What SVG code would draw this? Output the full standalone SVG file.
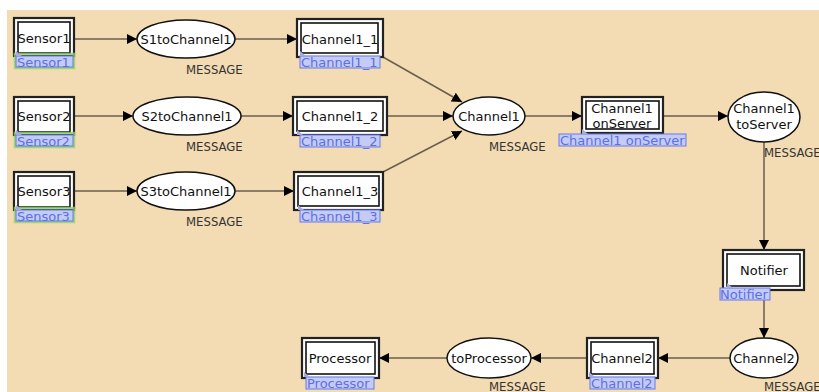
<svg xmlns="http://www.w3.org/2000/svg" width="819" height="392" viewBox="0 0 819 392">
<defs>
<style>
.bg{fill:#f3dcb3}
.outer{fill:#fff;stroke:#222;stroke-width:2.2}
.inner{fill:#fff;stroke:#111;stroke-width:1.6}
.el{fill:#fff;stroke:#111;stroke-width:1.5}
.t{font-family:"DejaVu Sans",Verdana,sans-serif;font-size:13px;fill:#111;text-anchor:middle;dominant-baseline:central}
.msg{font-family:"DejaVu Sans",Verdana,sans-serif;font-size:11.7px;fill:#333;dominant-baseline:central}
.lb{fill:#c4ccf6;stroke:#6678ea;stroke-width:1}
.lt{font-family:"DejaVu Sans",Verdana,sans-serif;font-size:13px;fill:#5d6fe6;dominant-baseline:central}
.tri{fill:#a8a8e0}
.glow{fill:none;stroke:#8ad466;stroke-width:2.5;opacity:0.8}
.e{fill:none;stroke:#6b5e4c;stroke-width:1.5;marker-end:url(#ah)}
</style>
<marker id="ah" markerWidth="11" markerHeight="11" refX="10" refY="5" orient="auto" markerUnits="userSpaceOnUse">
<path d="M0,0 L10,5 L0,10 Z" fill="#000"/>
</marker>
</defs>
<rect x="0" y="0" width="819" height="392" fill="#fff"/>
<rect class="bg" x="7" y="10" width="812" height="382"/>

<g id="connectors">
<line class="e" x1="74" y1="39" x2="137" y2="39"/>
<line class="e" x1="235" y1="39" x2="297" y2="39"/>
<line class="e" x1="74" y1="116" x2="133" y2="116"/>
<line class="e" x1="241" y1="116" x2="293" y2="116"/>
<line class="e" x1="74" y1="191" x2="137" y2="191"/>
<line class="e" x1="235" y1="191" x2="294" y2="191"/>
<line class="e" x1="383" y1="57" x2="462" y2="102"/>
<line class="e" x1="387" y1="116" x2="453" y2="116"/>
<line class="e" x1="383" y1="172" x2="462" y2="131"/>
<line class="e" x1="525" y1="116" x2="582" y2="116"/>
<line class="e" x1="663" y1="116" x2="728" y2="116"/>
<line class="e" x1="764" y1="142" x2="764" y2="250"/>
<line class="e" x1="764" y1="290" x2="764" y2="338"/>
<line class="e" x1="730" y1="358" x2="658" y2="358"/>
<line class="e" x1="587" y1="358" x2="531" y2="358"/>
<line class="e" x1="447" y1="358" x2="379" y2="358"/>
</g>

<g id="Sensor1">
<rect class="outer" x="14" y="18" width="60" height="38"/>
<rect class="inner" x="18" y="22" width="52" height="31"/>
<text class="t" x="44" y="38">Sensor1</text>
<rect class="glow" x="15" y="54" width="59" height="14"/>
<rect class="lb" x="16" y="56" width="57" height="11"/>
<path class="tri" d="M16,51 L16,56 L22,56 Z"/>
<text class="lt" x="17" y="62">Sensor1</text>
</g>
<g id="Sensor2">
<rect class="outer" x="14" y="97" width="60" height="38"/>
<rect class="inner" x="18" y="101" width="52" height="31"/>
<text class="t" x="44" y="116">Sensor2</text>
<rect class="glow" x="15" y="133" width="59" height="14"/>
<rect class="lb" x="16" y="135" width="57" height="11"/>
<path class="tri" d="M16,130 L16,135 L22,135 Z"/>
<text class="lt" x="17" y="141">Sensor2</text>
</g>
<g id="Sensor3">
<rect class="outer" x="14" y="172" width="60" height="38"/>
<rect class="inner" x="18" y="176" width="52" height="31"/>
<text class="t" x="44" y="191">Sensor3</text>
<rect class="glow" x="15" y="208" width="59" height="14"/>
<rect class="lb" x="16" y="210" width="57" height="11"/>
<path class="tri" d="M16,205 L16,210 L22,210 Z"/>
<text class="lt" x="17" y="216">Sensor3</text>
</g>

<g id="S1toChannel1">
<ellipse class="el" cx="186" cy="39" rx="49" ry="19"/>
<text class="t" x="186" y="39">S1toChannel1</text>
<text class="msg" x="186" y="70">MESSAGE</text>
</g>
<g id="S2toChannel1">
<ellipse class="el" cx="187" cy="116" rx="54" ry="19"/>
<text class="t" x="187" y="116">S2toChannel1</text>
<text class="msg" x="186" y="147">MESSAGE</text>
</g>
<g id="S3toChannel1">
<ellipse class="el" cx="186" cy="191" rx="49" ry="19"/>
<text class="t" x="186" y="191">S3toChannel1</text>
<text class="msg" x="186" y="222">MESSAGE</text>
</g>

<g id="Channel1_1">
<rect class="outer" x="297" y="19" width="86" height="38"/>
<rect class="inner" x="301" y="23" width="77" height="30"/>
<text class="t" x="340" y="39">Channel1_1</text>
<rect class="lb" x="300" y="56" width="80" height="12"/>
<path class="tri" d="M300,51 L300,56 L306,56 Z"/>
<text class="lt" x="301" y="62">Channel1_1</text>
</g>
<g id="Channel1_2">
<rect class="outer" x="293" y="97" width="94" height="38"/>
<rect class="inner" x="297" y="101" width="86" height="30"/>
<text class="t" x="340" y="116">Channel1_2</text>
<rect class="lb" x="300" y="135" width="80" height="12"/>
<path class="tri" d="M297,130 L297,135 L303,135 Z"/>
<text class="lt" x="301" y="141">Channel1_2</text>
</g>
<g id="Channel1_3">
<rect class="outer" x="294" y="172" width="89" height="38"/>
<rect class="inner" x="298" y="176" width="81" height="30"/>
<text class="t" x="340" y="191">Channel1_3</text>
<rect class="lb" x="300" y="210" width="80" height="12"/>
<path class="tri" d="M298,205 L298,210 L304,210 Z"/>
<text class="lt" x="301" y="216">Channel1_3</text>
</g>

<g id="Channel1">
<ellipse class="el" cx="489" cy="116" rx="36" ry="19"/>
<text class="t" x="489" y="116">Channel1</text>
<text class="msg" x="489" y="147">MESSAGE</text>
</g>

<g id="Channel1onServer">
<rect class="outer" x="582" y="97" width="81" height="36"/>
<rect class="inner" x="586" y="101" width="73" height="28"/>
<text class="t" x="622" y="108">Channel1</text>
<text class="t" x="622" y="123">onServer</text>
<rect class="lb" x="559" y="134" width="127" height="12"/>
<path class="tri" d="M582,129 L582,134 L588,134 Z"/>
<text class="lt" x="560" y="140">Channel1 onServer</text>
</g>

<g id="Channel1toServer">
<ellipse class="el" cx="764" cy="117" rx="36" ry="25"/>
<text class="t" x="764" y="108">Channel1</text>
<text class="t" x="764" y="124">toServer</text>
<text class="msg" x="764" y="153">MESSAGE</text>
</g>

<g id="Notifier">
<rect class="outer" x="723" y="250" width="81" height="40"/>
<rect class="inner" x="727" y="254" width="73" height="32"/>
<text class="t" x="764" y="270">Notifier</text>
<rect class="lb" x="720" y="288" width="50" height="12"/>
<path class="tri" d="M727,283 L727,288 L733,288 Z"/>
<text class="lt" x="720" y="294">Notifier</text>
</g>

<g id="Channel2ellipse">
<ellipse class="el" cx="764" cy="358" rx="34" ry="20"/>
<text class="t" x="764" y="358">Channel2</text>
<text class="msg" x="764" y="387">MESSAGE</text>
</g>

<g id="Channel2">
<rect class="outer" x="587" y="338" width="71" height="40"/>
<rect class="inner" x="591" y="342" width="63" height="32"/>
<text class="t" x="622" y="358">Channel2</text>
<rect class="lb" x="590" y="377" width="65" height="12"/>
<path class="tri" d="M589,372 L589,377 L595,377 Z"/>
<text class="lt" x="591" y="383">Channel2</text>
</g>

<g id="toProcessor">
<ellipse class="el" cx="489" cy="358" rx="42" ry="20"/>
<text class="t" x="489" y="358">toProcessor</text>
<text class="msg" x="489" y="387">MESSAGE</text>
</g>

<g id="Processor">
<rect class="outer" x="302" y="338" width="77" height="40"/>
<rect class="inner" x="306" y="342" width="69" height="32"/>
<text class="t" x="340" y="358">Processor</text>
<rect class="lb" x="306" y="377" width="68" height="12"/>
<path class="tri" d="M304,372 L304,377 L310,377 Z"/>
<text class="lt" x="307" y="383">Processor</text>
</g>
</svg>
